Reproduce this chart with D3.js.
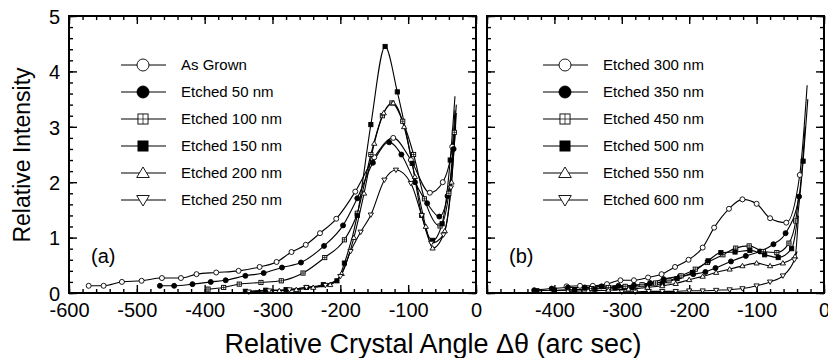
<!DOCTYPE html>
<html>
<head>
<meta charset="utf-8">
<script src="https://cdn.jsdelivr.net/npm/d3@7/dist/d3.min.js"></script>
<style>
  body { margin: 0; background: #fff; }
  text { font-family: Arial, "Liberation Sans", sans-serif; fill: #000; }
</style>
</head>
<body>
<div id="chart"></div>
<script>
// ---- data (x: arc sec, y: relative intensity) ----
const labelsA = ['As Grown', 'Etched 50 nm', 'Etched 100 nm', 'Etched 150 nm', 'Etched 200 nm', 'Etched 250 nm'];
const labelsB = ['Etched 300 nm', 'Etched 350 nm', 'Etched 450 nm', 'Etched 500 nm', 'Etched 550 nm', 'Etched 600 nm'];
const markerTypes = ['circleOpen', 'circleFilled', 'squareCross', 'squareFilled', 'triUp', 'triDown'];

const asGrown = [[-571,0.13],[-549,0.13],[-522,0.2],[-493,0.22],[-463,0.27],[-435,0.27],[-412,0.34],[-383,0.37],[-350,0.4],[-319,0.47],[-294,0.56],[-272,0.74],[-251,0.87],[-230,1.08],[-206,1.34],[-178,1.83],[-150,2.45],[-122,2.8],[-96,2.4],[-68,1.81],[-49,2.0],[-35,2.64],[-31,3.3]];
const etched50 = [[-466,0.13],[-445,0.13],[-418,0.16],[-391,0.2],[-369,0.23],[-340,0.31],[-313,0.36],[-286,0.46],[-258,0.55],[-224,0.85],[-196,1.22],[-175,1.71],[-152,2.35],[-128,2.72],[-110,2.5],[-90,2.0],[-72,1.62],[-54,1.38],[-42,1.75],[-33,2.6],[-30,3.2]];
const etched100 = [[-395,0.07],[-372,0.1],[-349,0.16],[-317,0.19],[-287,0.22],[-255,0.36],[-223,0.64],[-194,0.96],[-175,1.44],[-155,2.5],[-138,3.2],[-124,3.43],[-108,3.1],[-92,2.5],[-76,1.7],[-53,1.21],[-40,1.8],[-32,2.9],[-29,3.4]];
const etched150 = [[-340,0.03],[-310,0.05],[-280,0.06],[-250,0.1],[-225,0.15],[-205,0.22],[-194,0.54],[-175,1.4],[-155,3.04],[-134,4.45],[-116,3.63],[-94,2.34],[-80,1.4],[-64,0.95],[-50,1.25],[-38,2.4],[-31,3.55]];
const etched200 = [[-290,0.04],[-265,0.06],[-240,0.1],[-215,0.15],[-198,0.35],[-180,1.0],[-165,1.8],[-150,2.7],[-136,3.25],[-122,3.43],[-106,3.0],[-90,2.1],[-74,1.2],[-64,0.81],[-46,1.12],[-36,2.0],[-29,3.25]];
const etched250 = [[-335,0.02],[-305,0.04],[-275,0.06],[-250,0.1],[-222,0.14],[-200,0.3],[-185,0.75],[-170,1.1],[-155,1.41],[-135,2.04],[-118,2.22],[-96,1.98],[-80,1.4],[-66,0.9],[-48,1.05],[-37,1.9],[-30,3.0]];

const etched300 = [[-382,0.12],[-362,0.13],[-343,0.13],[-322,0.16],[-302,0.23],[-282,0.23],[-261,0.28],[-241,0.34],[-221,0.47],[-201,0.6],[-180,0.82],[-163,1.18],[-141,1.52],[-121,1.69],[-100,1.61],[-80,1.35],[-56,1.27],[-36,2.13],[-25,3.75]];
const etched350 = [[-430,0.05],[-404,0.08],[-380,0.1],[-355,0.1],[-330,0.12],[-305,0.13],[-282,0.14],[-258,0.18],[-238,0.25],[-214,0.3],[-194,0.34],[-176,0.38],[-161,0.45],[-138,0.57],[-116,0.67],[-95,0.75],[-75,0.88],[-57,1.08],[-37,1.74],[-28,3.0]];
const etched450 = [[-400,0.04],[-370,0.06],[-345,0.08],[-320,0.1],[-295,0.12],[-270,0.15],[-250,0.18],[-230,0.22],[-212,0.31],[-191,0.43],[-173,0.55],[-150,0.69],[-131,0.81],[-111,0.85],[-90,0.75],[-70,0.73],[-52,0.9],[-42,1.3],[-38,1.7]];
const etched500 = [[-426,0.04],[-400,0.05],[-370,0.06],[-340,0.07],[-310,0.09],[-285,0.1],[-262,0.13],[-240,0.17],[-218,0.26],[-195,0.37],[-172,0.58],[-153,0.73],[-132,0.74],[-110,0.77],[-88,0.69],[-68,0.64],[-48,0.8],[-31,2.38],[-24,3.5]];
const etched550 = [[-380,0.03],[-350,0.04],[-320,0.05],[-290,0.07],[-262,0.1],[-240,0.13],[-220,0.17],[-200,0.24],[-180,0.3],[-160,0.37],[-140,0.43],[-121,0.49],[-100,0.54],[-80,0.49],[-61,0.54],[-43,0.66],[-38,1.4]];
const etched600 = [[-300,0.02],[-280,0.02],[-260,0.03],[-240,0.03],[-220,0.03],[-200,0.04],[-180,0.04],[-160,0.05],[-140,0.06],[-121,0.08],[-100,0.13],[-80,0.2],[-61,0.31],[-44,0.6],[-40,0.75]];

const yTicks = [0, 1, 2, 3, 4, 5];
const xTicksA = [-600, -500, -400, -300, -200, -100, 0];
const xTicksB = [-400, -300, -200, -100, 0];

const seriesA = [asGrown, etched50, etched100, etched150, etched200, etched250];
const seriesB = [etched300, etched350, etched450, etched500, etched550, etched600];

// ---- layout ----
const W = 828, H = 358;
const plotTop = 16, plotBottom = 293;

const svg = d3.select('#chart').append('svg')
  .attr('width', W)
  .attr('height', H);

const yScale = d3.scaleLinear().domain([0, 5]).range([plotBottom, plotTop]);

// draw a marker of given type at (0,0) inside group g
function drawMarker(g, type, s) {
  if (type === 'circleOpen' || type === 'circleFilled') {
    g.append('circle').attr('r', s / 2)
      .attr('fill', type === 'circleFilled' ? '#000' : '#fff')
      .attr('stroke', '#000').attr('stroke-width', 0.9);
  } else if (type === 'squareCross' || type === 'squareFilled') {
    const h = s * 0.42;
    g.append('rect').attr('x', -h).attr('y', -h).attr('width', 2 * h).attr('height', 2 * h)
      .attr('fill', type === 'squareFilled' ? '#000' : '#fff')
      .attr('stroke', '#000').attr('stroke-width', 0.9);
    if (type === 'squareCross') {
      g.append('path').attr('d', `M${-h},0H${h}M0,${-h}V${h}`)
        .attr('stroke', '#000').attr('stroke-width', 0.7);
    }
  } else {
    const h = s * 0.5;
    const d = type === 'triUp'
      ? `M0,${-h}L${h * 1.05},${h * 0.75}L${-h * 1.05},${h * 0.75}Z`
      : `M0,${h}L${h * 1.05},${-h * 0.75}L${-h * 1.05},${-h * 0.75}Z`;
    g.append('path').attr('d', d)
      .attr('fill', '#fff').attr('stroke', '#000').attr('stroke-width', 0.9);
  }
}

function drawPanel(cfg) {
  const xScale = d3.scaleLinear().domain(cfg.domain).range([cfg.x0, cfg.x1]);
  const panel = svg.append('g');

  const minorX = d3.range(cfg.domain[0], cfg.domain[1] + 1, 20);
  const majorX = d3.range(cfg.domain[0], cfg.domain[1] + 1, 100);
  const minorY = d3.range(0, 5.01, 0.2);

  // inward ticks on all four sides
  const addAxis = (axis, transform) => {
    const a = panel.append('g').attr('transform', transform).call(axis);
    a.select('.domain').remove();
    a.selectAll('line').attr('stroke', '#000').attr('stroke-width', 1.4);
    return a;
  };
  addAxis(d3.axisBottom(xScale).tickValues(minorX).tickSize(-4).tickFormat(''), `translate(0,${plotBottom})`);
  addAxis(d3.axisTop(xScale).tickValues(minorX).tickSize(-4).tickFormat(''), `translate(0,${plotTop})`);
  addAxis(d3.axisBottom(xScale).tickValues(majorX).tickSize(-8).tickFormat(''), `translate(0,${plotBottom})`);
  addAxis(d3.axisTop(xScale).tickValues(majorX).tickSize(-8).tickFormat(''), `translate(0,${plotTop})`);
  addAxis(d3.axisLeft(yScale).tickValues(minorY).tickSize(-4).tickFormat(''), `translate(${cfg.x0},0)`);
  addAxis(d3.axisRight(yScale).tickValues(minorY).tickSize(-4).tickFormat(''), `translate(${cfg.x1},0)`);
  addAxis(d3.axisLeft(yScale).tickValues(yTicks).tickSize(-8).tickFormat(''), `translate(${cfg.x0},0)`);
  addAxis(d3.axisRight(yScale).tickValues(yTicks).tickSize(-8).tickFormat(''), `translate(${cfg.x1},0)`);

  // x tick labels (plain hyphen minus, as in the figure)
  const xl = panel.append('g').attr('transform', `translate(0,${plotBottom})`)
    .call(d3.axisBottom(xScale).tickValues(cfg.labelTicks).tickSize(0).tickPadding(10).tickFormat(d => String(d)));
  xl.select('.domain').remove();
  xl.selectAll('text').style('font-size', '20px').attr('fill', '#000');

  if (cfg.yLabels) {
    const yl = panel.append('g').attr('transform', `translate(${cfg.x0},0)`)
      .call(d3.axisLeft(yScale).tickValues(yTicks).tickSize(0).tickPadding(9).tickFormat(d => String(d)));
    yl.select('.domain').remove();
    yl.selectAll('text').style('font-size', '20px').attr('fill', '#000').attr('dy', '0.36em');
  }

  // curves
  const line = d3.line()
    .x(d => xScale(d[0]))
    .y(d => yScale(d[1]))
    .curve(d3.curveMonotoneX);

  cfg.series.forEach((s, i) => {
    panel.append('path')
      .datum(s)
      .attr('d', line)
      .attr('fill', 'none')
      .attr('stroke', '#000')
      .attr('stroke-width', 1.1);
  });
  // markers on every point except the steep end of each trace
  cfg.series.forEach((s, i) => {
    panel.selectAll(null)
      .data(s.slice(0, -1))
      .enter().append('g')
      .attr('transform', d => `translate(${xScale(d[0])},${yScale(d[1])})`)
      .each(function () { drawMarker(d3.select(this), markerTypes[i], 5); });
  });

  // frame
  panel.append('rect')
    .attr('x', cfg.x0).attr('y', plotTop)
    .attr('width', cfg.x1 - cfg.x0).attr('height', plotBottom - plotTop)
    .attr('fill', 'none').attr('stroke', '#000').attr('stroke-width', 2);

  // legend
  const legend = panel.append('g');
  cfg.labels.forEach((lab, i) => {
    const y = 65 + i * 27;
    legend.append('line')
      .attr('x1', cfg.legendX).attr('x2', cfg.legendX + 45)
      .attr('y1', y).attr('y2', y)
      .attr('stroke', '#000').attr('stroke-width', 1.2);
    const m = legend.append('g').attr('transform', `translate(${cfg.legendX + 22},${y})`);
    drawMarker(m, markerTypes[i], 12);
    legend.append('text')
      .attr('x', cfg.legendX + 60).attr('y', y)
      .attr('dy', '0.36em')
      .style('font-size', '15px')
      .text(lab);
  });

  panel.append('text')
    .attr('x', cfg.tagX).attr('y', 263)
    .style('font-size', '20px')
    .text(cfg.tag);
}

drawPanel({ x0: 69, x1: 476, domain: [-600, 0], labelTicks: xTicksA, yLabels: true,
  series: seriesA, labels: labelsA, legendX: 121, tag: '(a)', tagX: 91 });
drawPanel({ x0: 487, x1: 824, domain: [-500, 0], labelTicks: xTicksB, yLabels: false,
  series: seriesB, labels: labelsB, legendX: 543, tag: '(b)', tagX: 509 });

// axis titles
svg.append('text')
  .attr('transform', `translate(30,155) rotate(-90)`)
  .attr('text-anchor', 'middle')
  .style('font-size', '23px')
  .text('Relative Intensity');

svg.append('text')
  .attr('x', 433).attr('y', 353)
  .attr('text-anchor', 'middle')
  .style('font-size', '27px')
  .text('Relative Crystal Angle Δθ (arc sec)');
</script>
</body>
</html>
